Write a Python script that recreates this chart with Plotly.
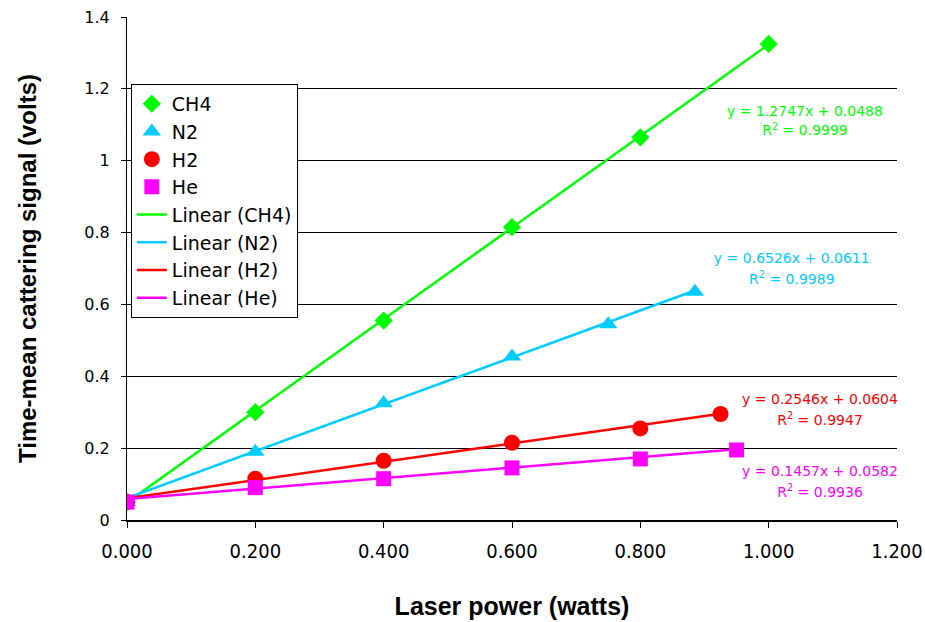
import plotly.graph_objects as go

# Measured scattering signal vs laser power for each gas
gases = ["CH4", "N2", "H2", "He"]
x_ch4 = [0.0, 0.2, 0.4, 0.6, 0.8, 1.0]
y_ch4 = [0.05, 0.30, 0.555, 0.815, 1.065, 1.325]
x_n2 = [0.0, 0.2, 0.4, 0.6, 0.75, 0.885]
y_n2 = [0.05, 0.19, 0.325, 0.455, 0.545, 0.635]
x_h2 = [0.0, 0.2, 0.4, 0.6, 0.8, 0.925]
y_h2 = [0.05, 0.115, 0.165, 0.215, 0.255, 0.295]
x_he = [0.0, 0.2, 0.4, 0.6, 0.8, 0.95]
y_he = [0.05, 0.09, 0.115, 0.145, 0.17, 0.195]

# Linear fit results (slope, intercept, R^2)
slopes = [1.2747, 0.6526, 0.2546, 0.1457]
intercepts = [0.0488, 0.0611, 0.0604, 0.0582]
r2 = [0.9999, 0.9989, 0.9947, 0.9936]

xs = [x_ch4, x_n2, x_h2, x_he]
ys = [y_ch4, y_n2, y_h2, y_he]
colors = ["#00FF00", "#00CCFF", "#FF0000", "#FF00FF"]
symbols = ["diamond", "triangle-up", "circle", "square"]
msizes = [14, 16, 16, 15]

x_ticks = [0.0, 0.2, 0.4, 0.6, 0.8, 1.0, 1.2]
y_ticks = [0, 0.2, 0.4, 0.6, 0.8, 1.0, 1.2, 1.4]
y_ticklabels = ["0", "0.2", "0.4", "0.6", "0.8", "1", "1.2", "1.4"]

SANS = "DejaVu Sans"
BOLD = "Liberation Sans, Arial"

fig = go.Figure()

# Trend lines first so markers sit on top; legend order set by legendrank
for i, g in enumerate(gases):
    x0, x1 = 0.0, xs[i][-1]
    fig.add_trace(go.Scatter(
        x=[x0, x1], y=[intercepts[i] + slopes[i] * x0, intercepts[i] + slopes[i] * x1],
        mode="lines", name=f"Linear ({g})",
        line=dict(color=colors[i], width=2.5),
        legendrank=10 + i,
    ))

for i, g in enumerate(gases):
    fig.add_trace(go.Scatter(
        x=xs[i], y=ys[i], mode="markers", name=g,
        marker=dict(symbol=symbols[i], size=msizes[i], color=colors[i], line=dict(width=0)),
        legendrank=i,
    ))

# Fit equation labels (x, y of equation line, y of R^2 line)
label_pos = [
    (1.0566, 1.1356, 1.080),
    (1.036, 0.7237, 0.668),
    (1.080, 0.334, 0.2755),
    (1.080, 0.1336, 0.0751),
]
for i, (ax, ay1, ay2) in enumerate(label_pos):
    fig.add_trace(go.Scatter(
        x=[ax, ax], y=[ay1, ay2], mode="text",
        text=[f"y = {slopes[i]:.4f}x + {intercepts[i]:.4f}", f"R<sup>2</sup> = {r2[i]:.4f}"],
        textposition="middle center",
        textfont=dict(family=SANS, size=14, color=colors[i]),
        showlegend=False, hoverinfo="skip", cliponaxis=False,
    ))

fig.update_layout(
    width=925, height=622,
    margin=dict(l=127, r=28, t=17, b=102),
    paper_bgcolor="white", plot_bgcolor="white",
    font=dict(family=SANS, color="black"),
    showlegend=True,
    legend=dict(
        x=0.005, y=0.867, xanchor="left", yanchor="top",
        bgcolor="white", bordercolor="black", borderwidth=1,
        font=dict(size=19, family=SANS, color="black"),
        itemwidth=30,
    ),
    xaxis=dict(
        range=[0, 1.2], tickvals=x_ticks, tickformat=".3f",
        showgrid=False, zeroline=False, automargin=False,
        showline=True, linecolor="black", linewidth=1.5,
        ticks="outside", ticklen=6, tickcolor="black",
        ticklabelstandoff=6,
        tickfont=dict(size=20, family="DejaVu Sans Condensed, DejaVu Sans"),
        title=dict(text="<b>Laser power (watts)</b>", standoff=36,
                   font=dict(size=25, family=BOLD)),
    ),
    yaxis=dict(
        range=[0, 1.4], tickvals=y_ticks, ticktext=y_ticklabels,
        showgrid=True, gridcolor="black", gridwidth=1, zeroline=False, automargin=False,
        showline=True, linecolor="black", linewidth=1,
        ticks="outside", ticklen=5, tickcolor="black",
        ticklabelstandoff=8,
        tickfont=dict(size=16, family=SANS),
        title=dict(text="<b>Time-mean cattering signal (volts)</b>", standoff=40,
                   font=dict(size=24, family=BOLD)),
    ),
)

fig.write_html("out.html")
